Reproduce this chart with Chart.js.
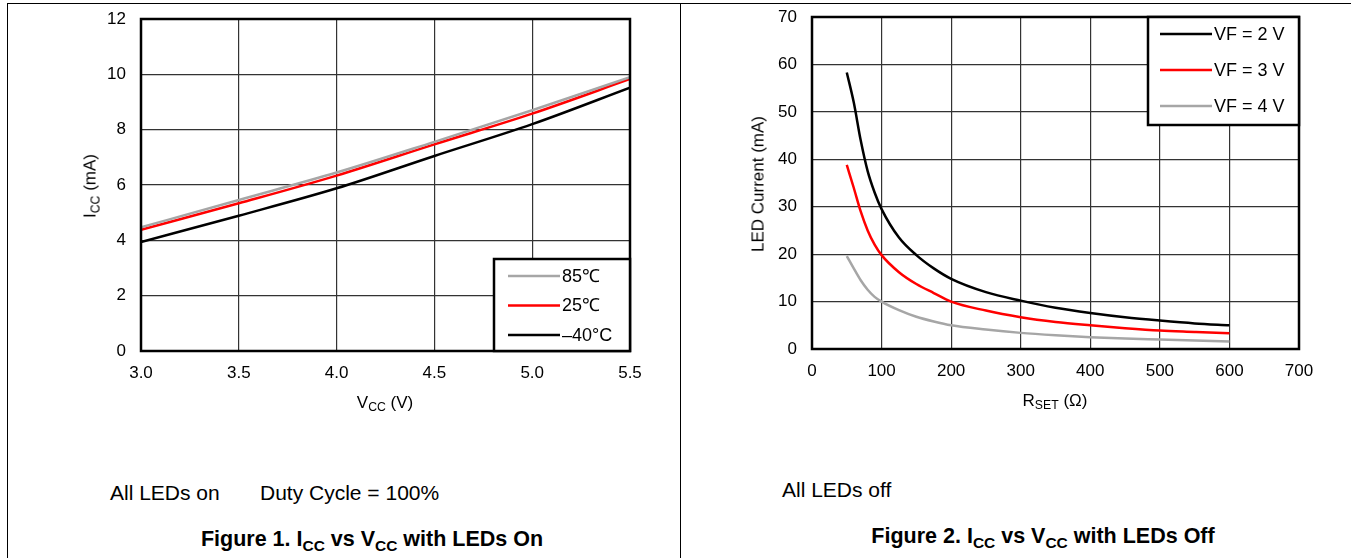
<!DOCTYPE html>
<html>
<head>
<meta charset="utf-8">
<script src="https://cdn.jsdelivr.net/npm/chart.js@4/dist/chart.umd.min.js"></script>
<style>
  body { margin: 0; background: #fff; font-family: "Liberation Sans", Arial, sans-serif; color: #000; }
  #page { position: relative; width: 1351px; height: 558px; overflow: hidden; }
  .rule { position: absolute; background: #000; }
  canvas { position: absolute; }
  .t { position: absolute; white-space: nowrap; font-size: 17px; line-height: 1; }
  .c { transform: translate(-50%, -50%); }
  .rot { transform: translate(-50%, -50%) rotate(-90deg); }
  .note { font-size: 21px; }
  .cap { font-size: 21.5px; font-weight: bold; }
  sub { font-size: 72%; vertical-align: -0.3em; line-height: 0; }
</style>
</head>
<body>
<div id="page">
  <div class="rule" style="left:7px;top:3px;width:1344px;height:1px"></div>
  <div class="rule" style="left:7px;top:3px;width:1px;height:555px"></div>
  <div class="rule" style="left:680px;top:3px;width:1px;height:555px"></div>

  <canvas id="c1" width="600" height="400" style="left:60px;top:5px"></canvas>
  <canvas id="c2" width="620" height="400" style="left:720px;top:5px"></canvas>

  <div class="t rot" style="left:90px;top:186px">I<sub>CC</sub> (mA)</div>
  <div class="t c" style="left:385px;top:402px">V<sub>CC</sub> (V)</div>
  <div class="t rot" style="left:758px;top:184px">LED Current (mA)</div>
  <div class="t c" style="left:1055px;top:400px">R<sub>SET</sub> (Ω)</div>

  <div class="t note" style="left:110px;top:482px">All LEDs on</div>
  <div class="t note" style="left:260px;top:482px">Duty Cycle = 100%</div>
  <div class="t cap c" style="left:372px;top:540px">Figure 1. I<sub>CC</sub> vs V<sub>CC</sub> with LEDs On</div>

  <div class="t note" style="left:782px;top:479px">All LEDs off</div>
  <div class="t cap c" style="left:1043px;top:537px">Figure 2. I<sub>CC</sub> vs V<sub>CC</sub> with LEDs Off</div>
</div>
<script>
// figure 1: supply current vs supply voltage
const vcc = [3.0, 3.5, 4.0, 4.5, 5.0, 5.5];
const icc85 = [4.47, 5.46, 6.45, 7.56, 8.7, 9.9];
const icc25 = [4.38, 5.34, 6.34, 7.47, 8.58, 9.83];
const iccM40 = [3.94, 4.89, 5.88, 7.05, 8.2, 9.52];

// figure 2: LED current vs RSET
const rset = [50, 60, 70, 80, 90, 100, 125, 150, 175, 200, 250, 300, 350, 400, 450, 500, 550, 600];
const vf2 = [58.3, 52, 44, 37.5, 33, 29.5, 23.5, 19.8, 17, 14.8, 12, 10.2, 8.7, 7.6, 6.7, 6.0, 5.4, 5.0];
const vf3 = [38.8, 34, 29, 25, 22, 19.8, 16.2, 13.7, 11.8, 10.0, 8.1, 6.7, 5.7, 5.0, 4.4, 3.9, 3.6, 3.3];
const vf4 = [19.6, 17, 14.5, 12.5, 11, 10, 8.2, 6.8, 5.8, 5.0, 4.1, 3.4, 2.9, 2.5, 2.2, 2.0, 1.8, 1.6];

const GRAY = "#a6a6a6", RED = "#ff0000", BLACK = "#000000";
const FONT = { family: "'Liberation Sans', Arial, sans-serif", size: 17 };

const pts = (xs, ys) => xs.map((x, i) => ({ x, y: ys[i] }));
const line = (label, xs, ys, color) => ({
  label, data: pts(xs, ys), borderColor: color, borderWidth: 2.5,
  pointRadius: 0, cubicInterpolationMode: "monotone", fill: false,
});

// thick frame round the plot + boxed legend inside it
const boxLegend = {
  id: "boxLegend",
  afterDraw(chart, args, o) {
    const { ctx, chartArea: a } = chart;
    ctx.save();
    ctx.strokeStyle = "#000";
    ctx.lineWidth = 2.5;
    ctx.strokeRect(a.left, a.top, a.right - a.left, a.bottom - a.top);
    const x = a.right - o.w, y = o.top ? a.top : a.bottom - o.h;
    ctx.fillStyle = "#fff";
    ctx.fillRect(x, y, o.w, o.h);
    ctx.strokeRect(x, y, o.w, o.h);
    ctx.font = "18px 'Liberation Sans', Arial, sans-serif";
    ctx.textBaseline = "middle";
    o.order.forEach((i, k) => {
      const ds = chart.data.datasets[i];
      const yy = y + o.y0 + k * o.dy;
      ctx.strokeStyle = ds.borderColor;
      ctx.lineWidth = 2.5;
      ctx.beginPath();
      ctx.moveTo(x + o.lx, yy);
      ctx.lineTo(x + o.lx + 52, yy);
      ctx.stroke();
      ctx.fillStyle = "#000";
      ctx.fillText(ds.label, x + o.lx + 54, yy + 1);
    });
    ctx.restore();
  },
};

// fixed axis sizes; drop the label-overflow padding so layout.padding decides the plot box
function axes(xmin, xmax, xstep, ymax, ystep, yw, xh, fmt) {
  const grid = { color: "#333", lineWidth: 1.2, drawTicks: false };
  return {
    x: {
      type: "linear", min: xmin, max: xmax,
      ticks: { stepSize: xstep, color: "#000", font: FONT, padding: 12, maxRotation: 0, callback: fmt },
      grid, border: { display: false },
      afterFit: (s) => { s.height = xh; s.paddingLeft = 0; s.paddingRight = 0; },
    },
    y: {
      min: 0, max: ymax,
      ticks: { stepSize: ystep, color: "#000", font: FONT, padding: 15 },
      grid, border: { display: false },
      afterFit: (s) => { s.width = yw; s.paddingTop = 0; s.paddingBottom = 0; },
    },
  };
}

new Chart(document.getElementById("c1"), {
  type: "line",
  data: {
    datasets: [
      line("85\u2103", vcc, icc85, GRAY),
      line("25\u2103", vcc, icc25, RED),
      line("\u201340\u00b0C", vcc, iccM40, BLACK),
    ],
  },
  plugins: [boxLegend],
  options: {
    responsive: false, animation: false,
    layout: { padding: { top: 14, right: 30, left: 0, bottom: 0 } },
    scales: axes(3, 5.5, 0.5, 12, 2, 81, 54, (v) => v.toFixed(1)),
    plugins: {
      legend: { display: false }, tooltip: { enabled: false },
      boxLegend: { w: 136, h: 92, top: false, y0: 17, dy: 29.5, lx: 14, order: [0, 1, 2] },
    },
  },
});

new Chart(document.getElementById("c2"), {
  type: "line",
  data: {
    datasets: [
      line("VF = 2 V", rset, vf2, BLACK),
      line("VF = 3 V", rset, vf3, RED),
      line("VF = 4 V", rset, vf4, GRAY),
    ],
  },
  plugins: [boxLegend],
  options: {
    responsive: false, animation: false,
    layout: { padding: { top: 12, right: 41, left: 0, bottom: 0 } },
    scales: axes(0, 700, 100, 70, 10, 92, 56),
    plugins: {
      legend: { display: false }, tooltip: { enabled: false },
      boxLegend: { w: 151, h: 108, top: true, y0: 17, dy: 36, lx: 12, order: [0, 1, 2] },
    },
  },
});
</script>
</body>
</html>
